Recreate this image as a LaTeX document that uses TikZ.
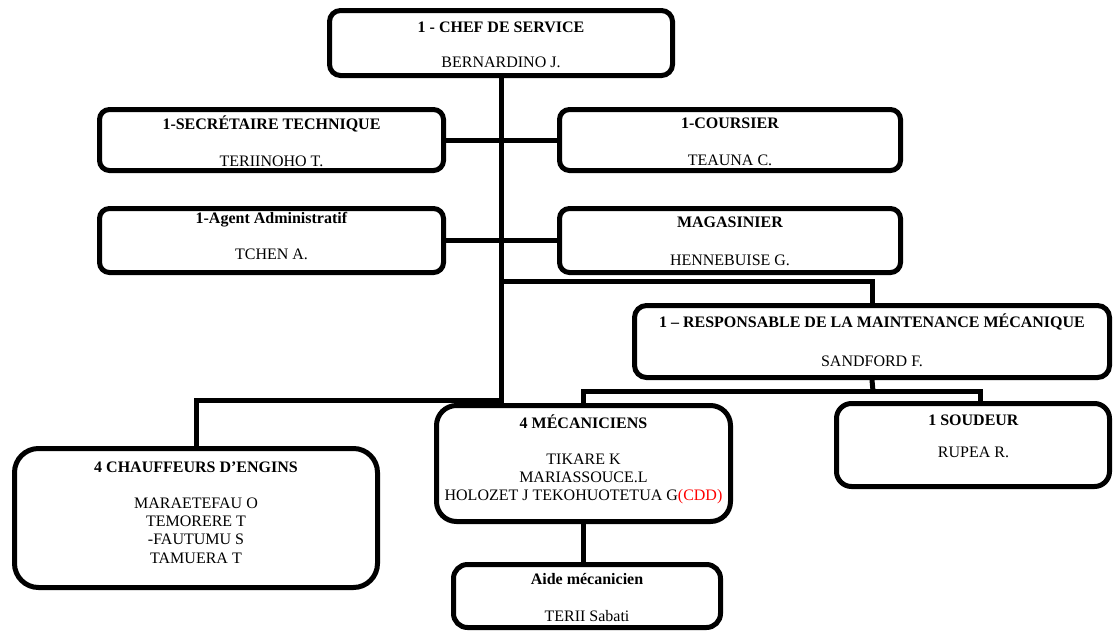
\documentclass[tikz,border=0pt]{standalone}
\usepackage{fontspec}
\setmainfont{Liberation Serif}
\usepackage{xcolor}
\definecolor{cddred}{RGB}{255,0,0}
\begin{document}
\begin{tikzpicture}[x=1pt,y=-1pt,
  box/.style={draw=black,line width=5pt,inner sep=0pt,fill=white},
  txt/.style={anchor=north,align=center,inner sep=0pt,font=\fontsize{16}{18.4}\selectfont},
  link/.style={draw=black,line width=5pt}]
\useasboundingbox (0,0) rectangle (1114,630);
% boxes
\node[box,rounded corners=11pt,minimum width=343pt,minimum height=65pt] (chef) at (501,43) {};
\node[box,rounded corners=10pt,minimum width=344pt,minimum height=61pt] (sec) at (271.5,140) {};
\node[box,rounded corners=10pt,minimum width=344pt,minimum height=64pt] (agent) at (271.5,240.5) {};
\node[box,rounded corners=10pt,minimum width=341pt,minimum height=61pt] (cour) at (730,140) {};
\node[box,rounded corners=10pt,minimum width=341pt,minimum height=64pt] (mag) at (730,240.5) {};
\node[box,rounded corners=12pt,minimum width=475pt,minimum height=72pt] (maint) at (872,341.5) {};
\node[box,rounded corners=24pt,minimum width=363pt,minimum height=139pt] (chauf) at (196,518) {};
\node[box,rounded corners=20pt,minimum width=294pt,minimum height=116pt] (mech) at (583.5,463.5) {};
\node[box,rounded corners=15pt,minimum width=273pt,minimum height=83pt] (soud) at (973,445) {};
\node[box,rounded corners=14pt,minimum width=267pt,minimum height=63pt] (aide) at (587,596) {};
% connectors
\coordinate (jA) at (501,400);
\coordinate (jB) at (501,281);
\coordinate (jC) at (873,391);
\draw[link] (chef.south) -- (jA) -| (chauf.north);
\draw[link] (sec.east) -- (sec.east -| jA);
\draw[link] (agent.east) -- (agent.east -| jA);
\draw[link] (cour.west) -- (cour.west -| jA);
\draw[link] (mag.west) -- (mag.west -| jA);
\draw[link] (jB) -| (maint.north);
\draw[link] (maint.south) -- (jC);
\draw[link] (mech.north) |- (jC) -| ([xshift=7pt]soud.north);
\draw[link] (mech.south) -- (mech.south |- aide.north);
% texts
\node[txt] (tchef) at (501,19.1) {\strut\textbf{1 - CHEF DE SERVICE}\\[16.6pt]\strut BERNARDINO J.};
\node[txt] (tsec) at (271.5,115.6) {\strut\textbf{1-SECRÉTAIRE TECHNIQUE}\\[18.6pt]\strut TERIINOHO T.};
\node[txt] (tagent) at (271.5,210.1) {\strut\textbf{1-Agent Administratif}\\[17.6pt]\strut TCHEN A.};
\node[txt] (tcour) at (730,115.1) {\strut\textbf{1-COURSIER}\\[18.6pt]\strut TEAUNA C.};
\node[txt] (tmag) at (730,214.1) {\strut\textbf{MAGASINIER}\\[19.6pt]\strut HENNEBUISE G.};
\node[txt] (tmaint) at (872,313.1) {\strut\textbf{1 – RESPONSABLE DE LA MAINTENANCE MÉCANIQUE}\\[20.6pt]\strut SANDFORD F.};
\node[txt] (tchauf) at (196,459.1) {\strut\textbf{4 CHAUFFEURS D’ENGINS}\\[17.6pt]\strut MARAETEFAU O\\\strut TEMORERE T\\\strut -FAUTUMU S\\\strut TAMUERA T};
\node[txt] (tmech) at (583.5,414.1) {\strut\textbf{4 MÉCANICIENS}\\[17.6pt]\strut TIKARE K\\\strut MARIASSOUCE.L\\\strut HOLOZET J TEKOHUOTETUA G{\color{cddred}(CDD)}};
\node[txt] (tsoud) at (973.5,412.1) {\strut\textbf{1 SOUDEUR}\\[13.6pt]\strut RUPEA R.};
\node[txt] (taide) at (587,571.1) {\strut\textbf{Aide mécanicien}\\[18.6pt]\strut TERII Sabati};
\end{tikzpicture}
\end{document}
